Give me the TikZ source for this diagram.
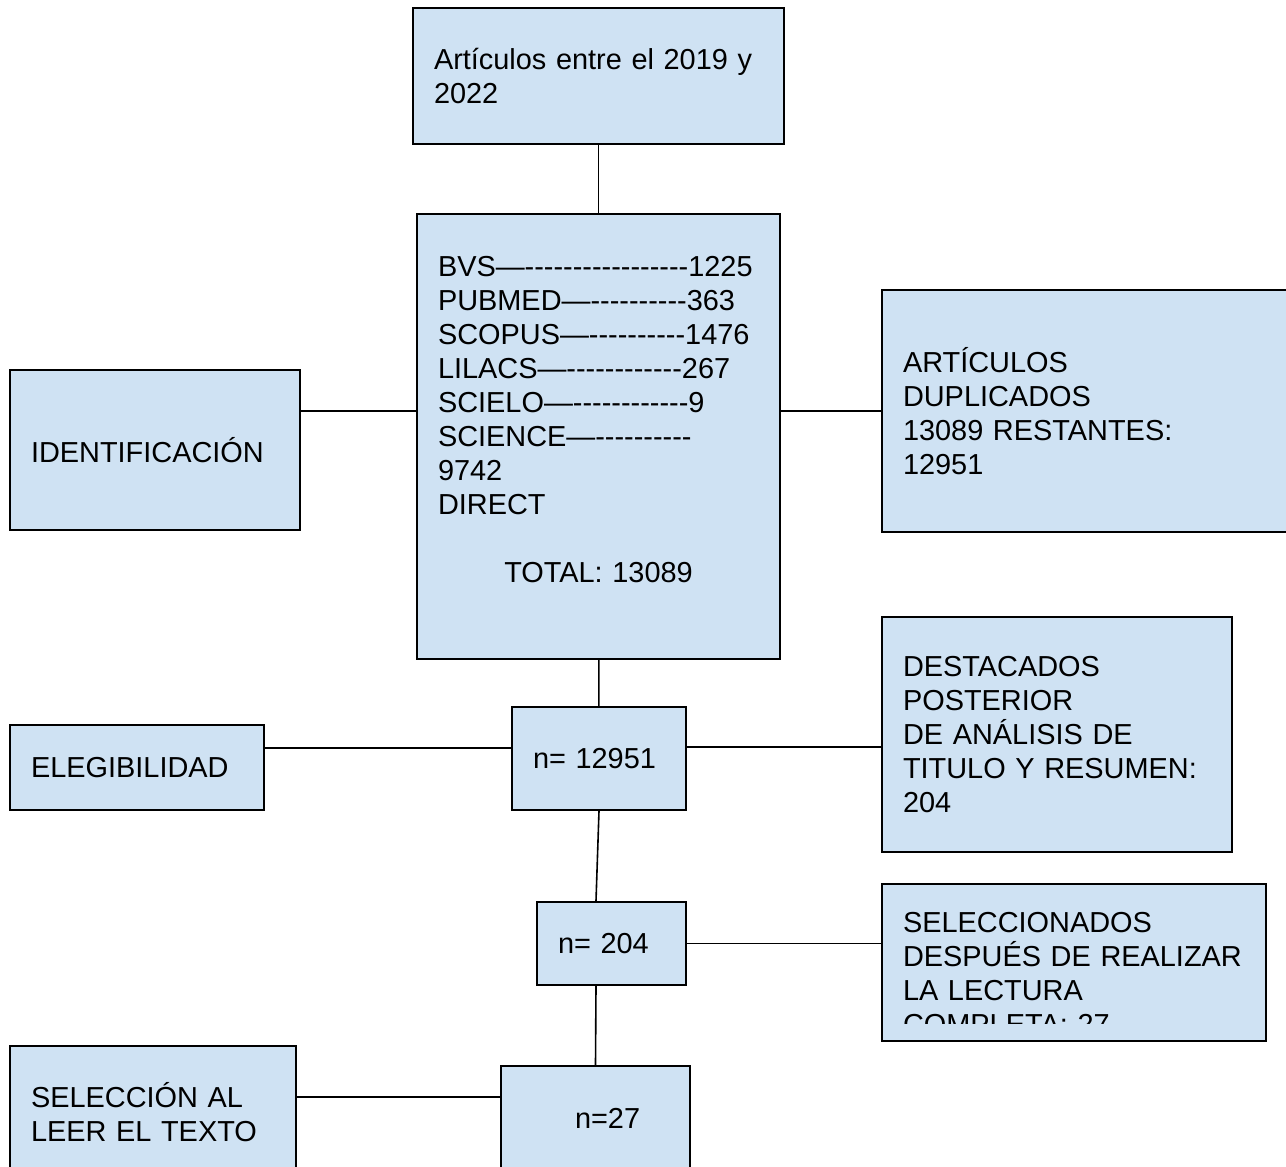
\documentclass[tikz,border=0pt]{standalone}
\usepackage{fontspec}
\setmainfont{Liberation Sans}[Ligatures=TeXOff]
\usepackage{tikz}
\definecolor{azulcaja}{HTML}{CFE2F3}
\tikzset{
	texto/.style={inner xsep=21pt, inner ysep=0pt, align=left, font=\fontsize{28.9pt}{34pt}\selectfont},
	caja/.style={texto, draw, fill=azulcaja, line width=2pt},
	linea/.style={line width=1.6pt}
}

\begin{document}
\begin{tikzpicture}[x=1pt,y=-1pt]
		\useasboundingbox (0,0) rectangle (1286,1167);
		% columna central
		\node[caja, minimum width=371pt, minimum height=136pt, text width=329pt] (inicio) at (598.5,76) {Artículos entre el 2019 y\\2022};
		\node[caja, minimum width=363pt, minimum height=445pt, text width=321pt] (bases) at (598.5,436.5) {BVS—-----------------1225\\PUBMED—----------363\\SCOPUS—----------1476\\LILACS—------------267\\SCIELO—------------9\\SCIENCE—----------\\9742\\DIRECT\\[34pt]\makebox[\hsize]{TOTAL: 13089}\\\mbox{}};
		\node[caja, minimum width=174pt, minimum height=103pt, text width=132pt] (n12951) at (599,758.5) {n= 12951};
		\node[caja, minimum width=149pt, minimum height=83pt, text width=107pt] (n204) at (611.5,943.5) {n= 204};
		\node[caja, minimum width=189pt, minimum height=104pt, text width=147pt] (n27) at (595.5,1118) {\hspace*{53pt}n=27};
		% etapas
		\node[caja, minimum width=290pt, minimum height=160pt, text width=248pt] (ident) at (155,450) {IDENTIFICACIÓN};
		\node[caja, minimum width=254pt, minimum height=85pt, text width=212pt] (elegib) at (137,767.5) {ELEGIBILIDAD};
		\node[caja, minimum width=286pt, minimum height=132pt, text width=244pt] (lectura) at (153,1112) {SELECCIÓN AL\\LEER EL TEXTO};
		% resultados
		\node[caja, minimum width=418pt, minimum height=242pt, text width=376pt] (duplic) at (1091,411) {ARTÍCULOS\\DUPLICADOS\\13089 RESTANTES:\\12951};
		\node[caja, minimum width=350pt, minimum height=235pt, text width=308pt] (destac) at (1057,734.5) {DESTACADOS\\POSTERIOR\\DE ANÁLISIS DE\\TITULO Y RESUMEN:\\204};
		\node[caja, minimum width=384pt, minimum height=157pt] (selec) at (1074,962.5) {};
		\begin{scope}
			\clip (selec.north west) rectangle ([yshift=19pt]selec.south east);
			\node[texto, text width=342pt] (selectexto) at ([yshift=-11pt]selec.center) {SELECCIONADOS\\DESPUÉS DE REALIZAR\\LA LECTURA\\COMPLETA: 27};
		\end{scope}
		% conectores
		\draw[linea] (inicio) -- (bases);
		\draw[linea] (ident.east |- duplic.west) -- (bases.west |- duplic.west);
		\draw[linea] (bases.east |- duplic.west) -- (duplic.west);
		\draw[linea] (bases) -- (n12951);
		\draw[linea] ([yshift=19.5pt]elegib.east) -- ([yshift=10.5pt]n12951.west);
		\draw[linea] ([yshift=11.5pt]n12951.east) -- ([yshift=-12.5pt]destac.west);
		\draw[linea] (n12951.south) -- ([xshift=-15.5pt]n204.north);
		\draw[linea] (n204.east) -- (selec.west |- n204.east);
		\draw[linea] ([xshift=-15.5pt]n204.south) -- (n27.north);
		\draw[linea] ([yshift=15pt]lectura.east) -- ([yshift=21pt]n27.west);
	\end{tikzpicture}
\end{document}
